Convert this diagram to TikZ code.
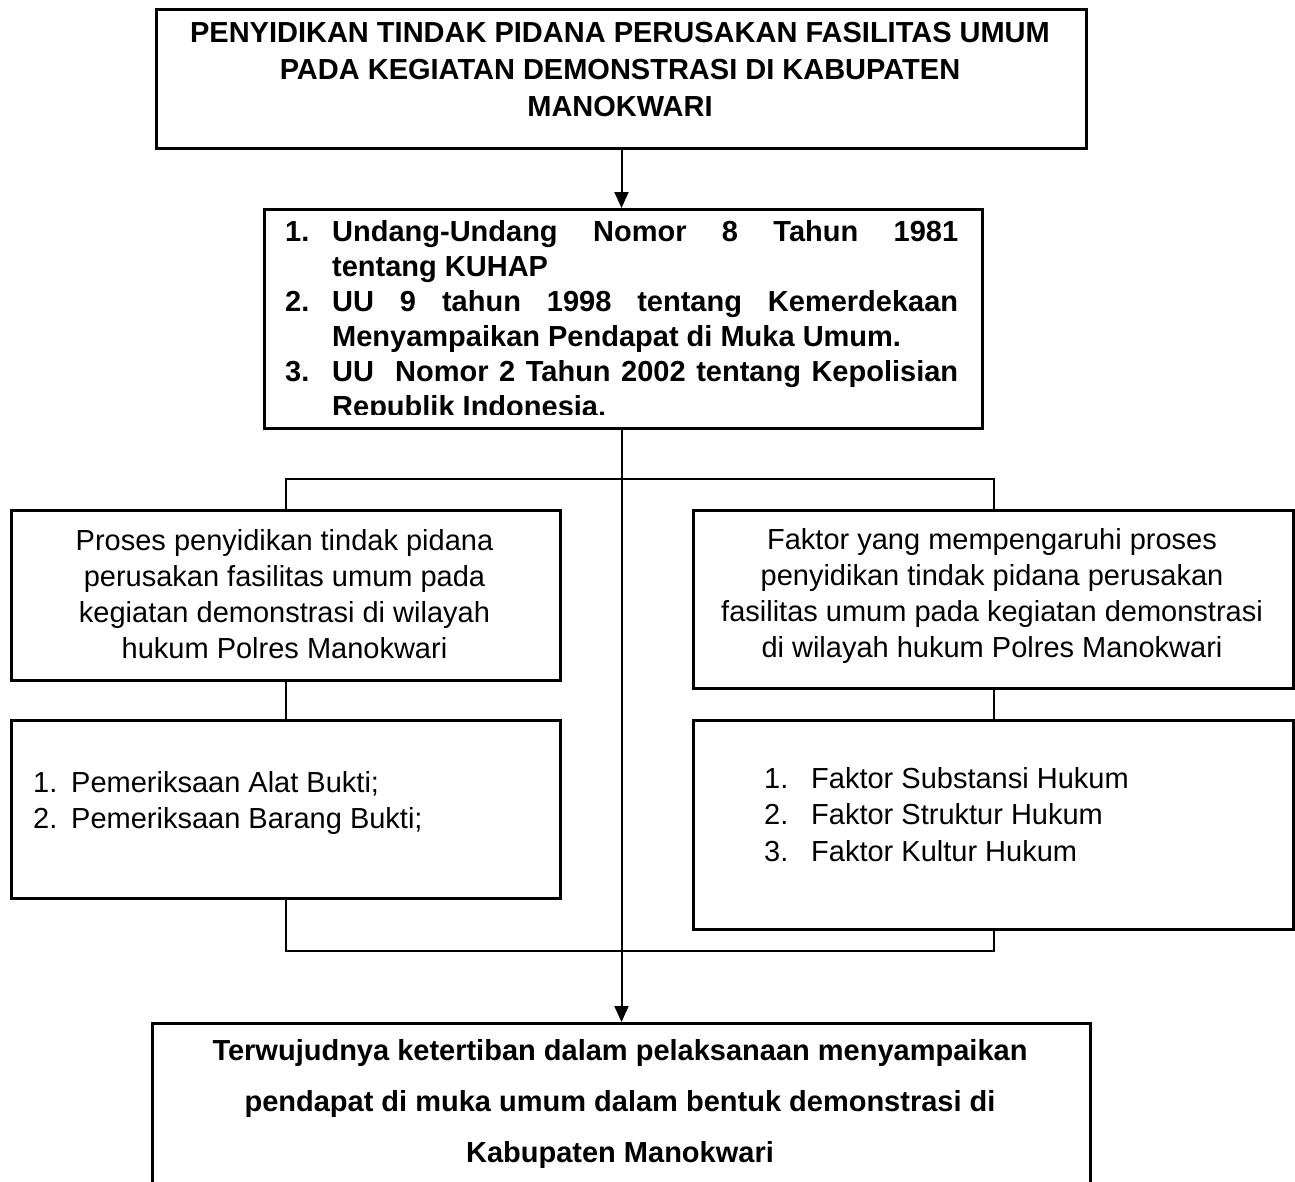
\documentclass[tikz,border=0pt]{standalone}
\usepackage{fontspec}
\setmainfont{Liberation Sans}
\usetikzlibrary{arrows.meta}
\begin{document}
\begin{tikzpicture}[x=1pt,y=-1pt,
  box/.style={draw, line width=3pt, inner sep=0pt, anchor=north west},
  conn/.style={line width=2pt},
  arr/.style={line width=2pt, -{Triangle[width=14pt,length=16pt]}},
  body/.style={inner sep=0pt, font=\fontsize{29}{36}\selectfont},
  bbody/.style={inner sep=0pt, font=\bfseries\fontsize{29}{36}\selectfont},
  ]
\clip (0,0) rectangle (1295,1181);

% boxes
\node[box, minimum width=930pt, minimum height=139pt] (top) at (155,8) {};
\node[box, minimum width=718pt, minimum height=219pt] (mid) at (263,208) {};
\node[box, minimum width=549pt, minimum height=170pt] (lb1) at (10,509) {};
\node[box, minimum width=600pt, minimum height=178pt] (rb1) at (692,509) {};
\node[box, minimum width=549pt, minimum height=178pt] (lb2) at (10,719) {};
\node[box, minimum width=600pt, minimum height=209pt] (rb2) at (692,719) {};
\node[box, minimum width=938pt, minimum height=260pt] (bot) at (151,1022) {};

% texts
\node[bbody, align=center, font=\bfseries\fontsize{29}{37}\selectfont] (toptext) at (620,70)
  {PENYIDIKAN TINDAK PIDANA PERUSAKAN FASILITAS UMUM\\PADA KEGIATAN DEMONSTRASI DI KABUPATEN\\MANOKWARI};

\begin{scope}
\clip (264.5,209.5) rectangle (979.5,414);
\node[bbody, anchor=north west, align=left, font=\bfseries\fontsize{29}{35}\selectfont] (midtext) at (285,220.5) {%
\makebox[47pt][l]{1.}\makebox[626pt][s]{Undang-Undang Nomor 8 Tahun 1981}\\
\hspace*{47pt}tentang KUHAP\\
\makebox[47pt][l]{2.}\makebox[626pt][s]{UU 9 tahun 1998 tentang Kemerdekaan}\\
\hspace*{47pt}Menyampaikan Pendapat di Muka Umum.\\
\makebox[47pt][l]{3.}\makebox[626pt][s]{UU\ \ Nomor 2 Tahun 2002 tentang Kepolisian}\\
\hspace*{47pt}Republik Indonesia.};
\end{scope}

\node[body, align=center] (lb1text) at (284.5,594)
  {Proses penyidikan tindak pidana\\perusakan fasilitas umum pada\\kegiatan demonstrasi di wilayah\\hukum Polres Manokwari};
\node[body, align=center] (rb1text) at (992,596)
  {Faktor yang mempengaruhi proses\\penyidikan tindak pidana perusakan\\fasilitas umum pada kegiatan demonstrasi\\di wilayah hukum Polres Manokwari};

\node[body, anchor=north west, align=left] (lb2text) at (33,771)
  {\makebox[38pt][l]{1.}Pemeriksaan Alat Bukti;\\\makebox[38pt][l]{2.}Pemeriksaan Barang Bukti;};
\node[body, anchor=north west, align=left, font=\fontsize{29}{36.5}\selectfont] (rb2text) at (764,767)
  {\makebox[47pt][l]{1.}Faktor Substansi Hukum\\\makebox[47pt][l]{2.}Faktor Struktur Hukum\\\makebox[47pt][l]{3.}Faktor Kultur Hukum};

\node[bbody, anchor=north, align=center, font=\bfseries\fontsize{29}{51}\selectfont] (bottext) at (620,1039)
  {Terwujudnya ketertiban dalam pelaksanaan menyampaikan\\pendapat di muka umum dalam bentuk demonstrasi di\\Kabupaten Manokwari};

% connectors
\coordinate (brT) at (0,479);
\coordinate (brB) at (0,951);
\draw[arr] (top.south) -- (top.south |- mid.north);
\draw[arr] (top.south |- mid.south) -- (top.south |- bot.north);
\draw[conn] (lb1.north) -- (lb1.north |- brT) -- (rb1.north |- brT) -- (rb1.north);
\draw[conn] (lb1.south) -- (lb2.north);
\draw[conn] (rb1.south) -- (rb2.north);
\draw[conn] (lb2.south) -- (lb2.south |- brB) -- (rb2.south |- brB) -- (rb2.south);
\end{tikzpicture}
\end{document}
